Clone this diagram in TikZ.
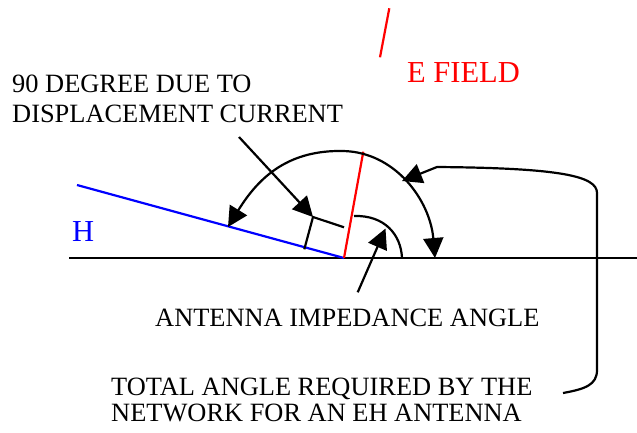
\documentclass[tikz,border=0pt]{standalone}
\usepackage{fontspec}
\setmainfont{Liberation Serif}
\usetikzlibrary{arrows.meta}
\begin{document}
\begin{tikzpicture}[x=1pt,y=-1pt,
  ln/.style={line width=2.2pt},
  tip/.style={-{Triangle[length=20pt,width=20pt]}},
  lbl/.style={inner sep=0pt,anchor=base west,align=left,font=\fontsize{26.4}{30.7}\selectfont},
  big/.style={inner sep=0pt,anchor=base west,font=\fontsize{30.5}{34}\selectfont}]
\useasboundingbox (0,0) rectangle (637,432);
% points
\coordinate (O) at (344,258);
\coordinate (axL) at (69,258);
\coordinate (axR) at (637,258);
\coordinate (Hend) at (77,185);
\coordinate (Eend) at (363.3,151.7);
\coordinate (E1) at (389.3,8.3);
\coordinate (E2) at (380,57.3);
\coordinate (C) at (313,217);
\coordinate (C1) at (344,227.3);
\coordinate (C2) at (304.3,249.3);
\coordinate (A90s) at (239,137);
\coordinate (Ants) at (357.7,292.3);
\coordinate (Antt) at (385.5,228.5);
\coordinate (bigL) at (228,227);
\coordinate (bigT) at (343,151);
\coordinate (bigR) at (435,258);
\coordinate (smA) at (354,216);
\coordinate (smB) at (402,258);
\coordinate (brS) at (563,393);
\coordinate (brT) at (402,181);
% lines
\draw[ln] (axL) -- (axR);
\draw[ln,blue] (Hend) -- (O);
\draw[ln,red] (O) -- (Eend);
\draw[ln,red] (E1) -- (E2);
\draw[ln] (C1) -- (C) -- (C2);
\draw[ln,tip] (A90s) -- (C);
\draw[ln,tip] (Ants) -- (Antt);
\draw[ln,{Triangle[length=20pt,width=20pt]}-{Triangle[length=20pt,width=20pt]}]
  (bigL) .. controls (260,175) and (290,150) .. (bigT)
  .. controls (395,152) and (430,200) .. (bigR);
\draw[ln] (smA) .. controls (385,215) and (401,235) .. (smB);
\draw[ln,tip] (brS) .. controls (585,389) and (597,385) .. (597,370) -- (597,193)
  .. controls (597,176) and (560,168) .. (437,167) -- (brT);
% texts
\node[big,text=red] (tE) at (407,82) {E FIELD};
\node[big,text=blue] (tH) at (72,241) {H};
\node[lbl] (t90) at (12,122.7) {90 DEGREE DUE TO\\DISPLACEMENT CURRENT};
\node[lbl] (tAnt) at (155,326.7) {ANTENNA IMPEDANCE ANGLE};
\node[lbl,font=\fontsize{26.4}{26.5}\selectfont] (tTot) at (111,421.7) {TOTAL ANGLE REQUIRED BY THE\\NETWORK FOR AN EH ANTENNA};
\end{tikzpicture}
\end{document}
